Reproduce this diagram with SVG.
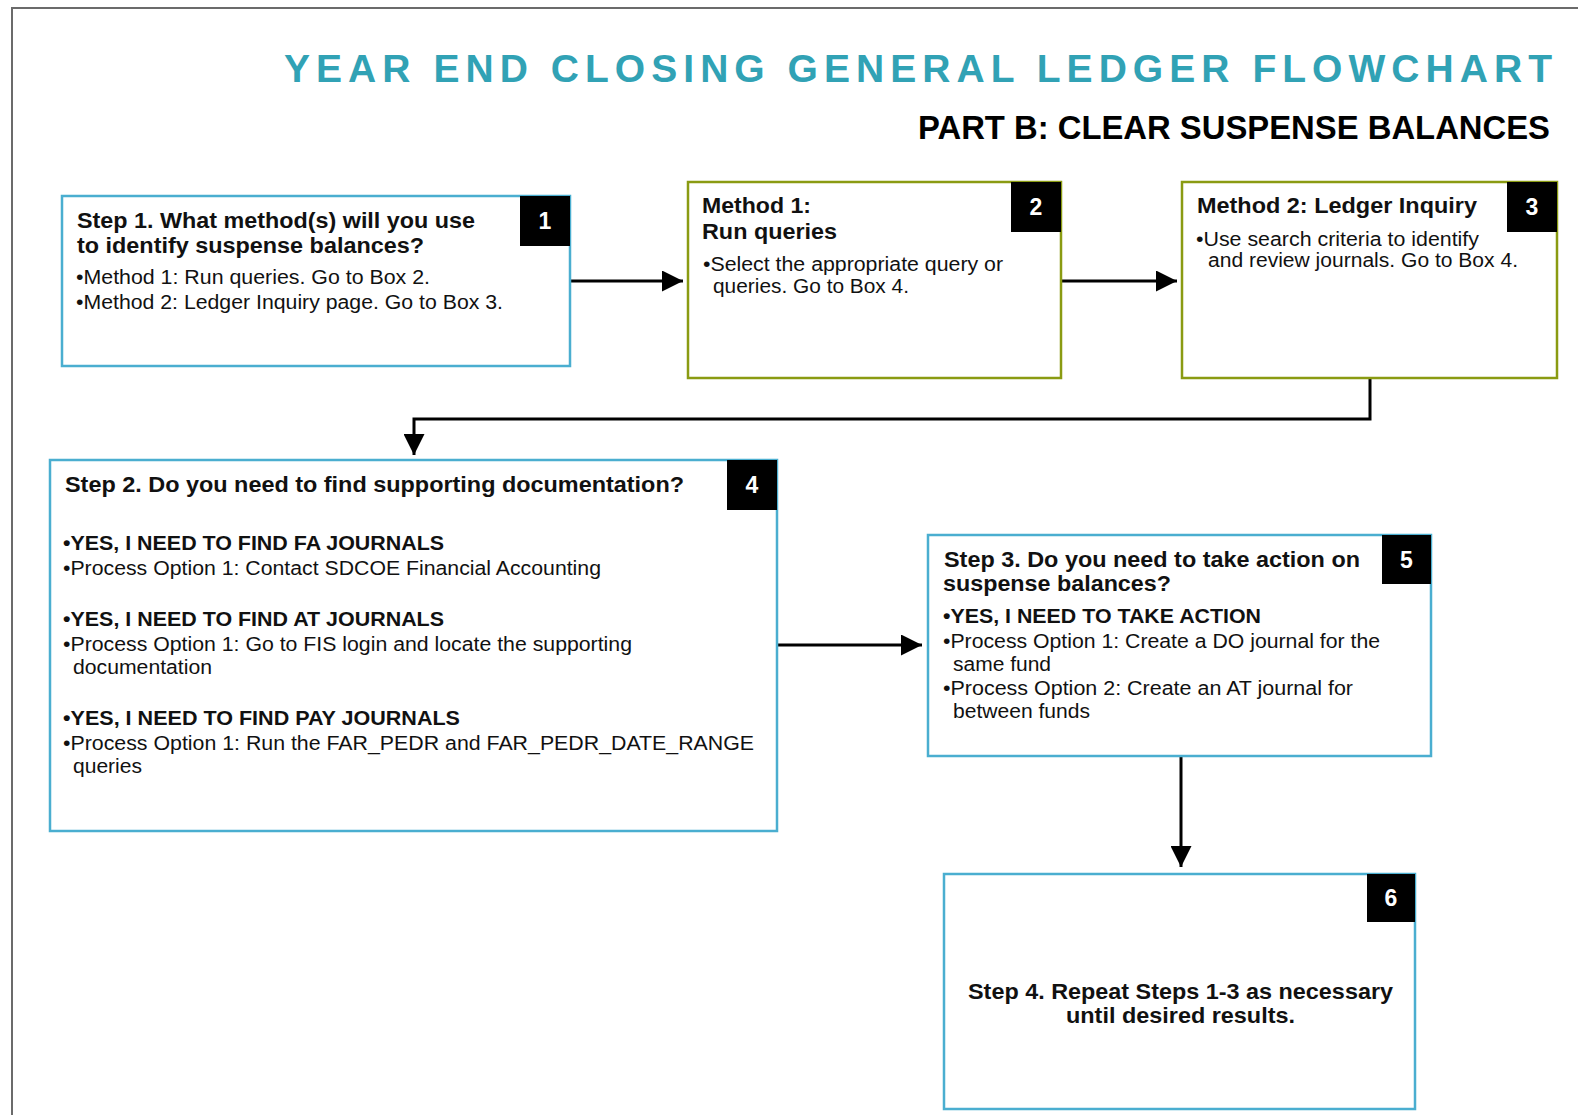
<svg xmlns="http://www.w3.org/2000/svg" width="1578" height="1115" viewBox="0 0 1578 1115">
<defs>
<style>
.frame{fill:none;stroke:#6b6b6b;stroke-width:2}
.bb{fill:#fff;stroke:#4aaed0;stroke-width:2.5}
.gb{fill:#fff;stroke:#8a9b12;stroke-width:2.5}
.badge{fill:#000}
.num{font-family:"Liberation Sans",Arial,sans-serif;font-weight:bold;font-size:23px;fill:#fff;text-anchor:middle}
.h{font-family:"Liberation Sans",Arial,sans-serif;font-weight:bold;font-size:22px;fill:#111}
.t{font-family:"Liberation Sans",Arial,sans-serif;font-size:20px;fill:#111}
.tb{font-family:"Liberation Sans",Arial,sans-serif;font-weight:bold;font-size:21px;fill:#111}
.title{font-family:"Liberation Sans",Arial,sans-serif;font-weight:bold;font-size:39px;fill:#31a2b5}
.sub{font-family:"Liberation Sans",Arial,sans-serif;font-weight:bold;font-size:34px;fill:#000}
.c{fill:none;stroke:#000;stroke-width:3}
</style>
<marker id="ah" viewBox="0 0 10 10" refX="10" refY="5" markerWidth="7.5" markerHeight="7" markerUnits="strokeWidth" orient="auto">
<path d="M0,0 L10,5 L0,10 Z" fill="#000"/>
</marker>
</defs>
<rect width="1578" height="1115" fill="#fff"/>
<path class="frame" d="M12,1115 L12,8 L1578,8"/>
<text class="title" x="284" y="82" textLength="1268" lengthAdjust="spacing">YEAR END CLOSING GENERAL LEDGER FLOWCHART</text>
<text class="sub" x="918" y="139" textLength="632" lengthAdjust="spacingAndGlyphs">PART B: CLEAR SUSPENSE BALANCES</text>

<g id="connectors">
<path class="c" marker-end="url(#ah)" d="M570,281 L683,281"/>
<path class="c" marker-end="url(#ah)" d="M1061,281 L1177,281"/>
<path class="c" marker-end="url(#ah)" d="M1370,378 L1370,419 L414,419 L414,455"/>
<path class="c" marker-end="url(#ah)" d="M777,645 L922,645"/>
<path class="c" marker-end="url(#ah)" d="M1181,756 L1181,867"/>
</g>

<g id="node1">
<rect class="bb" x="62" y="196" width="508" height="170"/>
<rect class="badge" x="520" y="196" width="50" height="50"/>
<text class="num" x="545" y="229">1</text>
<text class="h" x="77" y="228" textLength="398" lengthAdjust="spacingAndGlyphs">Step 1. What method(s) will you use</text>
<text class="h" x="77" y="253" textLength="347" lengthAdjust="spacingAndGlyphs">to identify suspense balances?</text>
<text class="t" x="76" y="284" textLength="354" lengthAdjust="spacingAndGlyphs">•Method 1: Run queries. Go to Box 2.</text>
<text class="t" x="76" y="309" textLength="427" lengthAdjust="spacingAndGlyphs">•Method 2: Ledger Inquiry page. Go to Box 3.</text>
</g>

<g id="node2">
<rect class="gb" x="688" y="182" width="373" height="196"/>
<rect class="badge" x="1011" y="182" width="50" height="50"/>
<text class="num" x="1036" y="215">2</text>
<text class="h" x="702" y="213" textLength="109" lengthAdjust="spacingAndGlyphs">Method 1:</text>
<text class="h" x="702" y="239" textLength="135" lengthAdjust="spacingAndGlyphs">Run queries</text>
<text class="t" x="703" y="271" textLength="300" lengthAdjust="spacingAndGlyphs">•Select the appropriate query or</text>
<text class="t" x="713" y="293" textLength="196" lengthAdjust="spacingAndGlyphs">queries. Go to Box 4.</text>
</g>

<g id="node3">
<rect class="gb" x="1182" y="182" width="375" height="196"/>
<rect class="badge" x="1507" y="182" width="50" height="50"/>
<text class="num" x="1532" y="215">3</text>
<text class="h" x="1197" y="213" textLength="280" lengthAdjust="spacingAndGlyphs">Method 2: Ledger Inquiry</text>
<text class="t" x="1196" y="246" textLength="283" lengthAdjust="spacingAndGlyphs">•Use search criteria to identify</text>
<text class="t" x="1208" y="267" textLength="310" lengthAdjust="spacingAndGlyphs">and review journals. Go to Box 4.</text>
</g>

<g id="node4">
<rect class="bb" x="50" y="460" width="727" height="371"/>
<rect class="badge" x="727" y="460" width="50" height="50"/>
<text class="num" x="752" y="493">4</text>
<text class="h" x="65" y="492" textLength="619" lengthAdjust="spacingAndGlyphs">Step 2. Do you need to find supporting documentation?</text>
<text class="tb" x="63" y="550" textLength="381" lengthAdjust="spacingAndGlyphs">•YES, I NEED TO FIND FA JOURNALS</text>
<text class="t" x="63" y="575" textLength="538" lengthAdjust="spacingAndGlyphs">•Process Option 1: Contact SDCOE Financial Accounting</text>
<text class="tb" x="63" y="626" textLength="381" lengthAdjust="spacingAndGlyphs">•YES, I NEED TO FIND AT JOURNALS</text>
<text class="t" x="63" y="651" textLength="569" lengthAdjust="spacingAndGlyphs">•Process Option 1: Go to FIS login and locate the supporting</text>
<text class="t" x="73" y="674" textLength="139" lengthAdjust="spacingAndGlyphs">documentation</text>
<text class="tb" x="63" y="725" textLength="397" lengthAdjust="spacingAndGlyphs">•YES, I NEED TO FIND PAY JOURNALS</text>
<text class="t" x="63" y="750" textLength="691" lengthAdjust="spacingAndGlyphs">•Process Option 1: Run the FAR_PEDR and FAR_PEDR_DATE_RANGE</text>
<text class="t" x="73" y="773" textLength="69" lengthAdjust="spacingAndGlyphs">queries</text>
</g>

<g id="node5">
<rect class="bb" x="928" y="535" width="503" height="221"/>
<rect class="badge" x="1382" y="535" width="49" height="49"/>
<text class="num" x="1406.5" y="568">5</text>
<text class="h" x="944" y="567" textLength="416" lengthAdjust="spacingAndGlyphs">Step 3. Do you need to take action on</text>
<text class="h" x="943" y="591" textLength="228" lengthAdjust="spacingAndGlyphs">suspense balances?</text>
<text class="tb" x="943" y="623" textLength="318" lengthAdjust="spacingAndGlyphs">•YES, I NEED TO TAKE ACTION</text>
<text class="t" x="943" y="648" textLength="437" lengthAdjust="spacingAndGlyphs">•Process Option 1: Create a DO journal for the</text>
<text class="t" x="953" y="671" textLength="98" lengthAdjust="spacingAndGlyphs">same fund</text>
<text class="t" x="943" y="695" textLength="410" lengthAdjust="spacingAndGlyphs">•Process Option 2: Create an AT journal for</text>
<text class="t" x="953" y="718" textLength="137" lengthAdjust="spacingAndGlyphs">between funds</text>
</g>

<g id="node6">
<rect class="bb" x="944" y="874" width="471" height="235"/>
<rect class="badge" x="1367" y="874" width="48" height="48"/>
<text class="num" x="1391" y="906">6</text>
<text class="h" x="968" y="999" textLength="425" lengthAdjust="spacingAndGlyphs">Step 4. Repeat Steps 1-3 as necessary</text>
<text class="h" x="1066" y="1023" textLength="229" lengthAdjust="spacingAndGlyphs">until desired results.</text>
</g>
</svg>
